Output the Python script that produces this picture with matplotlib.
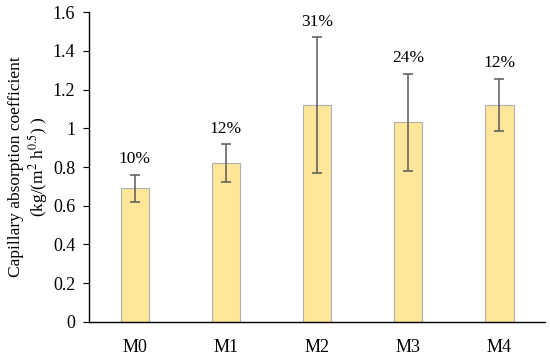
import matplotlib
matplotlib.use('Agg')
import matplotlib.pyplot as plt
import numpy as np

# データ
mixes = ['M0', 'M1', 'M2', 'M3', 'M4']
coef = [0.69, 0.82, 1.12, 1.03, 1.12]
err = [0.07, 0.097, 0.35, 0.25, 0.135]
cv_labels = ['10%', '12%', '31%', '24%', '12%']

plt.rcParams['font.family'] = ['Liberation Serif', 'DejaVu Serif']
plt.rcParams['mathtext.fontset'] = 'stix'

fig = plt.figure(figsize=(5.5, 3.58), dpi=100)
ax = fig.add_axes([0.162, 0.101, 0.829, 0.865])

x = np.arange(len(mixes))
ax.bar(x, coef, width=0.31, color='#FFE699', edgecolor='#AFAFAF', linewidth=0.8, zorder=2)
ax.errorbar(x, coef, yerr=err, fmt='none', ecolor='#595959', elinewidth=1.1,
            capsize=3.5, capthick=1.1, zorder=3)

# CVラベル
for xi, v, e, lab in zip(x, coef, err, cv_labels):
    ax.text(xi, v + e + 0.04, lab, ha='center', va='bottom', fontsize=12.5)

ax.set_xlim(-0.5, 4.5)
ax.set_ylim(0, 1.6)
ax.set_yticks(np.arange(0, 1.61, 0.2))
ax.set_yticklabels(['0', '0.2', '0.4', '0.6', '0.8', '1', '1.2', '1.4', '1.6'])
ax.set_xticks(x)
ax.set_xticklabels(mixes)
ax.tick_params(axis='x', length=0, pad=12, labelsize=13)
ax.tick_params(axis='y', length=4, direction='out', labelsize=13, pad=6)

for s in ['top', 'right']:
    ax.spines[s].set_visible(False)
ax.spines['left'].set_linewidth(1.0)
ax.spines['bottom'].set_linewidth(1.0)

ax.set_ylabel('Capillary absorption coefficient\n(kg/(m$^{2}$ h$^{0.5}$) )', fontsize=12.5,
              labelpad=2, linespacing=1.1)

fig.savefig('out.png', dpi=100)
